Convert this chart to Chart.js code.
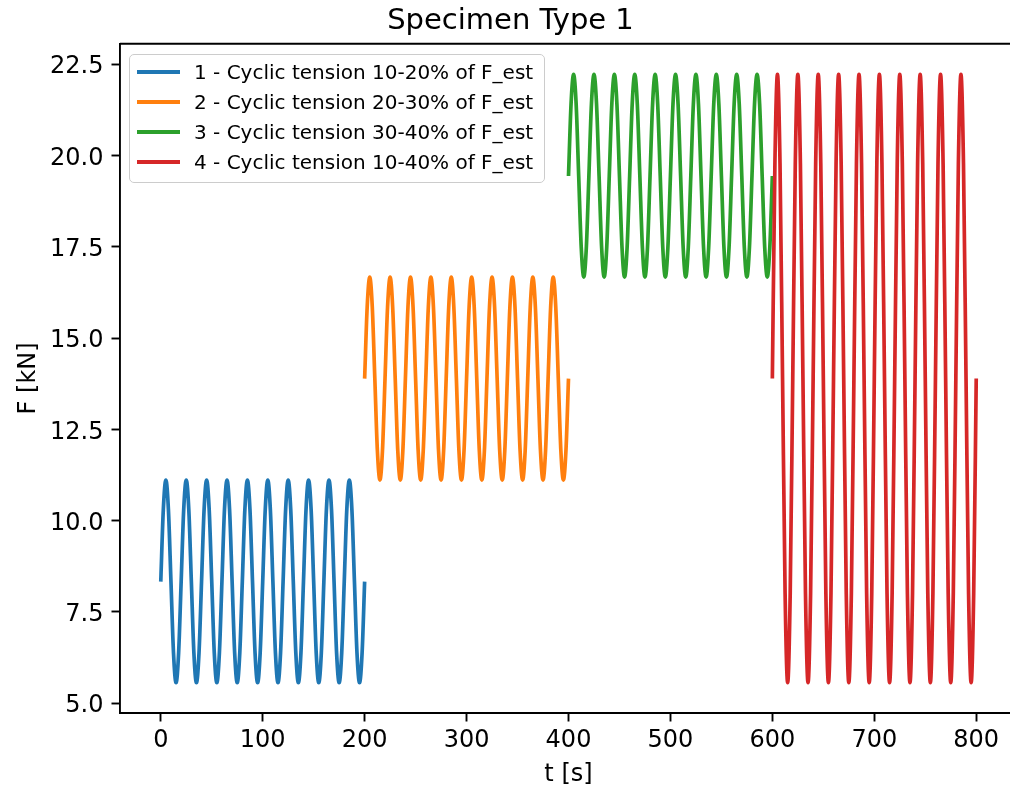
<!DOCTYPE html>
<html>
<head>
<meta charset="utf-8">
<script src="https://cdn.jsdelivr.net/npm/chart.js@4/dist/chart.umd.min.js"></script>
<style>
  html, body { margin: 0; padding: 0; background: #fff; overflow: hidden; width: 1010px; height: 793px; }
  #wrap { position: relative; width: 1136px; height: 793px; }
  #legend {
    position: absolute; left: 129px; top: 54px; width: 414px; height: 125px;
    border: 1.5px solid #cccccc; border-radius: 5px; background: rgba(255,255,255,0.8);
    padding-top: 2px; font-family: "DejaVu Sans", sans-serif; font-size: 20px; color: #000;
  }
  .row { height: 30px; display: flex; align-items: center; }
  .swatch { width: 43px; height: 3.6px; margin-left: 7px; margin-right: 14px; }
</style>
</head>
<body>
<div id="wrap">
  <canvas id="myChart" width="1136" height="793"></canvas>
  <div id="legend"></div>
</div>
<script>
// Force readings, sampled every 2.5 s, one cycle (20 s) per line
const segmentStarts = [0, 200, 400, 600];
const sampleStep = 2.5;

const force1 = [
  8.33, 10.30, 11.11, 10.30, 8.33, 6.37, 5.56, 6.37,
  8.33, 10.30, 11.11, 10.30, 8.33, 6.37, 5.56, 6.37,
  8.33, 10.30, 11.11, 10.30, 8.33, 6.37, 5.56, 6.37,
  8.33, 10.30, 11.11, 10.30, 8.33, 6.37, 5.56, 6.37,
  8.33, 10.30, 11.11, 10.30, 8.33, 6.37, 5.56, 6.37,
  8.33, 10.30, 11.11, 10.30, 8.33, 6.37, 5.56, 6.37,
  8.33, 10.30, 11.11, 10.30, 8.33, 6.37, 5.56, 6.37,
  8.33, 10.30, 11.11, 10.30, 8.33, 6.37, 5.56, 6.37,
  8.33, 10.30, 11.11, 10.30, 8.33, 6.37, 5.56, 6.37,
  8.33, 10.30, 11.11, 10.30, 8.33, 6.37, 5.56, 6.37,
  8.33
];
const force2 = [
  13.89, 15.85, 16.67, 15.85, 13.89, 11.92, 11.11, 11.92,
  13.89, 15.85, 16.67, 15.85, 13.89, 11.92, 11.11, 11.92,
  13.89, 15.85, 16.67, 15.85, 13.89, 11.92, 11.11, 11.92,
  13.89, 15.85, 16.67, 15.85, 13.89, 11.92, 11.11, 11.92,
  13.89, 15.85, 16.67, 15.85, 13.89, 11.92, 11.11, 11.92,
  13.89, 15.85, 16.67, 15.85, 13.89, 11.92, 11.11, 11.92,
  13.89, 15.85, 16.67, 15.85, 13.89, 11.92, 11.11, 11.92,
  13.89, 15.85, 16.67, 15.85, 13.89, 11.92, 11.11, 11.92,
  13.89, 15.85, 16.67, 15.85, 13.89, 11.92, 11.11, 11.92,
  13.89, 15.85, 16.67, 15.85, 13.89, 11.92, 11.11, 11.92,
  13.89
];
const force3 = [
  19.44, 21.41, 22.22, 21.41, 19.44, 17.48, 16.67, 17.48,
  19.44, 21.41, 22.22, 21.41, 19.44, 17.48, 16.67, 17.48,
  19.44, 21.41, 22.22, 21.41, 19.44, 17.48, 16.67, 17.48,
  19.44, 21.41, 22.22, 21.41, 19.44, 17.48, 16.67, 17.48,
  19.44, 21.41, 22.22, 21.41, 19.44, 17.48, 16.67, 17.48,
  19.44, 21.41, 22.22, 21.41, 19.44, 17.48, 16.67, 17.48,
  19.44, 21.41, 22.22, 21.41, 19.44, 17.48, 16.67, 17.48,
  19.44, 21.41, 22.22, 21.41, 19.44, 17.48, 16.67, 17.48,
  19.44, 21.41, 22.22, 21.41, 19.44, 17.48, 16.67, 17.48,
  19.44, 21.41, 22.22, 21.41, 19.44, 17.48, 16.67, 17.48,
  19.44
];
const force4 = [
  13.89, 19.78, 22.22, 19.78, 13.89, 8.00, 5.56, 8.00,
  13.89, 19.78, 22.22, 19.78, 13.89, 8.00, 5.56, 8.00,
  13.89, 19.78, 22.22, 19.78, 13.89, 8.00, 5.56, 8.00,
  13.89, 19.78, 22.22, 19.78, 13.89, 8.00, 5.56, 8.00,
  13.89, 19.78, 22.22, 19.78, 13.89, 8.00, 5.56, 8.00,
  13.89, 19.78, 22.22, 19.78, 13.89, 8.00, 5.56, 8.00,
  13.89, 19.78, 22.22, 19.78, 13.89, 8.00, 5.56, 8.00,
  13.89, 19.78, 22.22, 19.78, 13.89, 8.00, 5.56, 8.00,
  13.89, 19.78, 22.22, 19.78, 13.89, 8.00, 5.56, 8.00,
  13.89, 19.78, 22.22, 19.78, 13.89, 8.00, 5.56, 8.00,
  13.89
];

const seriesLabels = [
  '1 - Cyclic tension 10-20% of F_est',
  '2 - Cyclic tension 20-30% of F_est',
  '3 - Cyclic tension 30-40% of F_est',
  '4 - Cyclic tension 10-40% of F_est'
];
const seriesColors = ['#1f77b4', '#ff7f0e', '#2ca02c', '#d62728'];
const xTicks = [0, 100, 200, 300, 400, 500, 600, 700, 800];
const yTicks = [5.0, 7.5, 10.0, 12.5, 15.0, 17.5, 20.0, 22.5];

const allForces = [force1, force2, force3, force4];

const datasets = allForces.map((forces, i) => ({
  label: seriesLabels[i],
  data: forces.map((f, k) => ({ x: segmentStarts[i] + k * sampleStep, y: f })),
  borderColor: seriesColors[i],
  backgroundColor: seriesColors[i],
  borderWidth: 3.7,
  pointRadius: 0,
  cubicInterpolationMode: 'monotone',
  fill: false,
  order: 3 - i
}));

// legend built as html, matplotlib style
const legendBox = document.getElementById('legend');
seriesLabels.forEach((lbl, i) => {
  const row = document.createElement('div');
  row.className = 'row';
  const sw = document.createElement('div');
  sw.className = 'swatch';
  sw.style.background = seriesColors[i];
  const txt = document.createElement('span');
  txt.textContent = lbl;
  row.appendChild(sw);
  row.appendChild(txt);
  legendBox.appendChild(row);
});

// top spine
const topSpine = {
  id: 'topSpine',
  afterDraw(chart) {
    const { ctx, chartArea } = chart;
    ctx.save();
    ctx.strokeStyle = '#000';
    ctx.lineWidth = 1.9;
    ctx.beginPath();
    ctx.moveTo(chartArea.left, chartArea.top);
    ctx.lineTo(chartArea.right, chartArea.top);
    ctx.stroke();
    ctx.restore();
  }
};

const font = 'DejaVu Sans';

new Chart(document.getElementById('myChart'), {
  type: 'line',
  data: { datasets: datasets },
  plugins: [topSpine],
  options: {
    responsive: false,
    animation: false,
    devicePixelRatio: 1,
    layout: { padding: { left: 4, right: 119, top: 0, bottom: 4 } },
    plugins: {
      legend: { display: false },
      tooltip: { enabled: false },
      title: {
        display: true,
        text: 'Specimen Type 1',
        color: '#000',
        font: { family: font, size: 29, weight: 'normal', lineHeight: 1.2 },
        padding: { top: 4, bottom: 5 }
      }
    },
    scales: {
      x: {
        type: 'linear',
        min: -40,
        max: 840,
        afterBuildTicks: scale => { scale.ticks = xTicks.map(v => ({ value: v })); },
        afterFit: scale => { scale.height = 76; },
        ticks: {
          color: '#000',
          font: { family: font, size: 24 },
          padding: 5,
          maxRotation: 0,
          autoSkip: false,
          callback: v => String(v)
        },
        grid: { display: true, drawOnChartArea: false, drawTicks: true, tickLength: 8.5, tickWidth: 1.9, tickColor: '#000' },
        border: { display: true, color: '#000', width: 1.9 },
        title: {
          display: true,
          text: 't [s]',
          color: '#000',
          font: { family: font, size: 24 },
          padding: { top: 5, bottom: 0 }
        }
      },
      y: {
        type: 'linear',
        min: 4.73,
        max: 23.06,
        afterBuildTicks: scale => { scale.ticks = yTicks.map(v => ({ value: v })); },
        afterFit: scale => { scale.width = 116; },
        ticks: {
          color: '#000',
          font: { family: font, size: 24 },
          padding: 8,
          labelOffset: 3,
          autoSkip: false,
          callback: v => Number(v).toFixed(1)
        },
        grid: { display: true, drawOnChartArea: false, drawTicks: true, tickLength: 8.5, tickWidth: 1.9, tickColor: '#000' },
        border: { display: true, color: '#000', width: 1.9 },
        title: {
          display: true,
          text: 'F [kN]',
          color: '#000',
          font: { family: font, size: 24 },
          padding: { top: 10, bottom: 0 }
        }
      }
    }
  }
});
</script>
</body>
</html>
